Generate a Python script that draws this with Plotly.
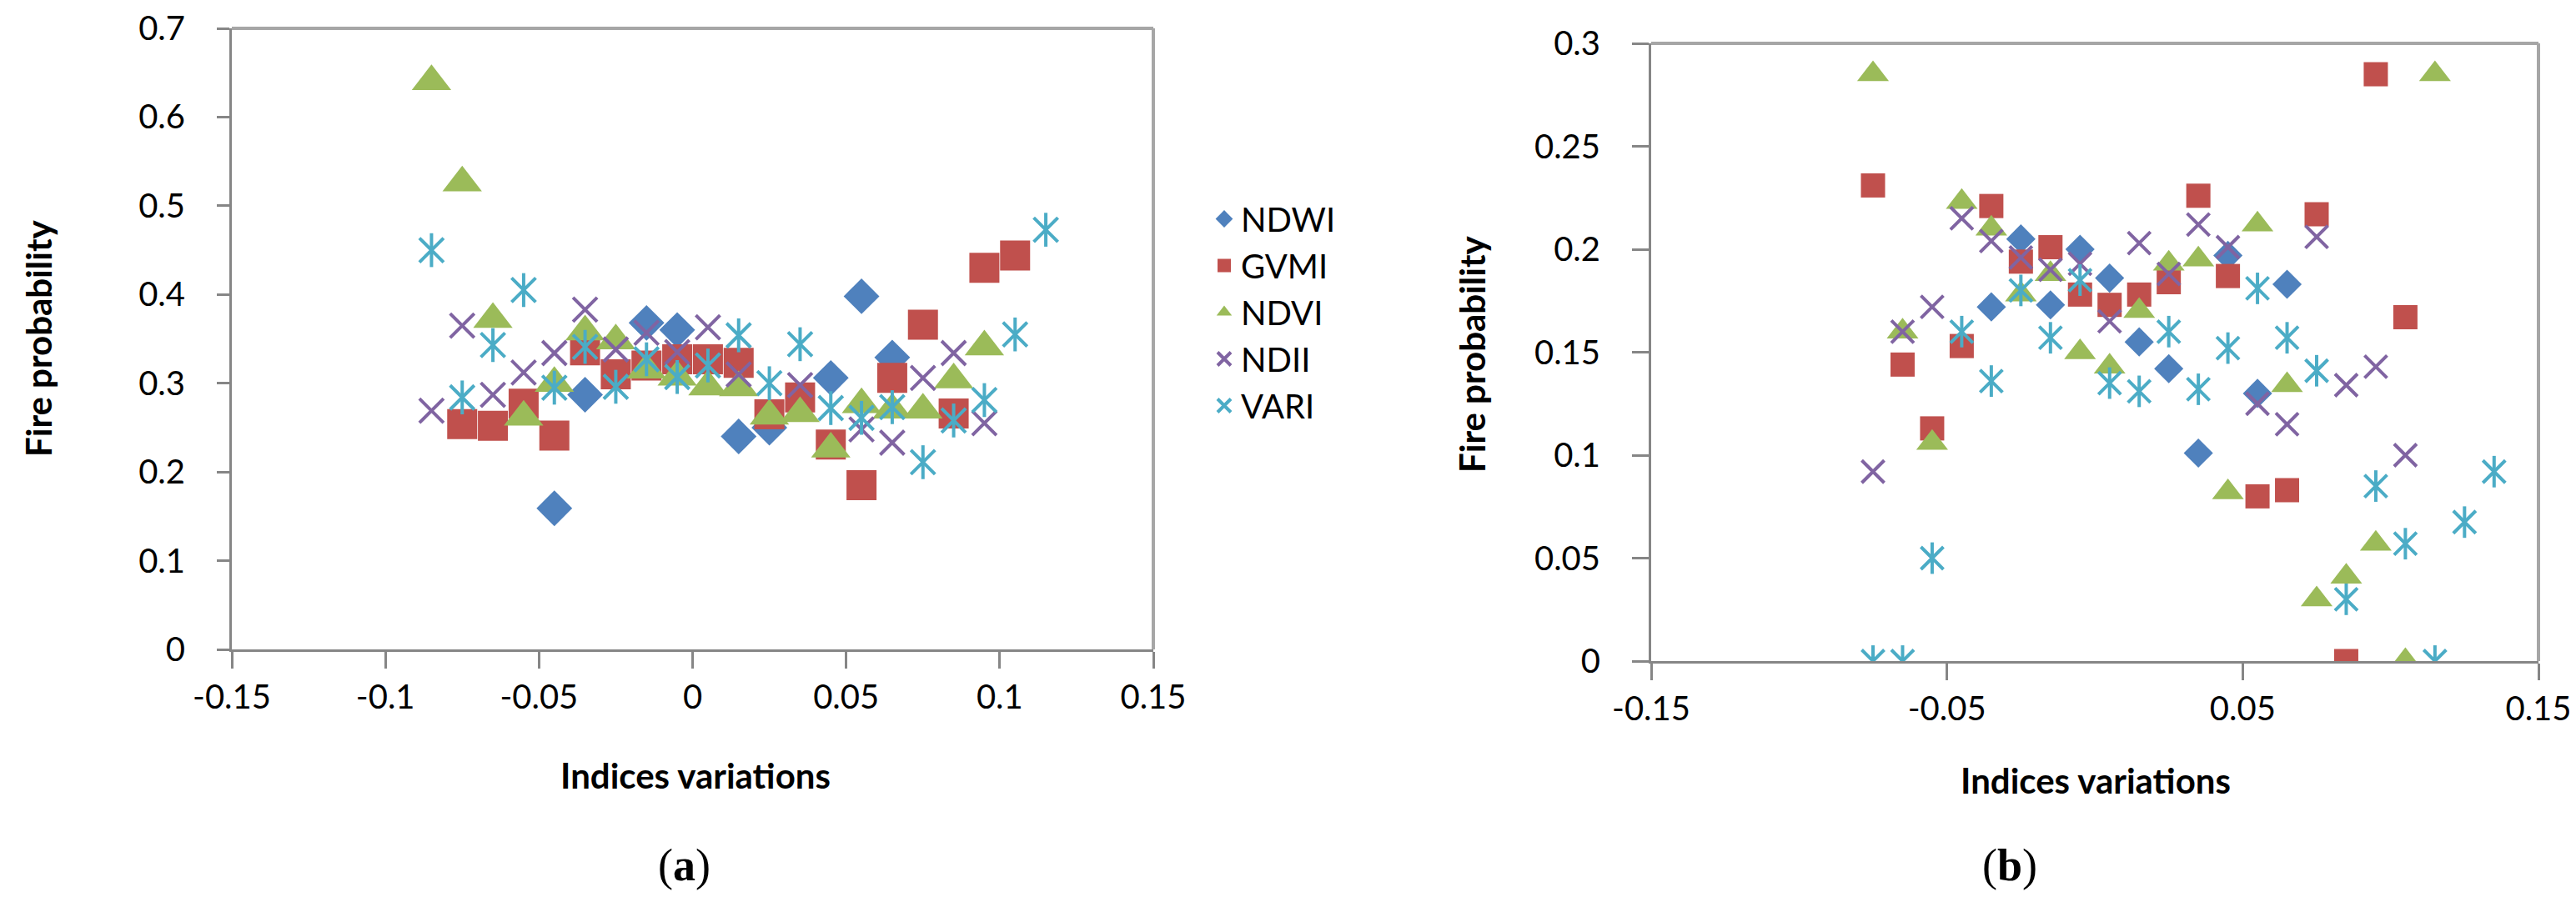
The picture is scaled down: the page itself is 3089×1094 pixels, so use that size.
import plotly.graph_objects as go

# Indices variations (bin centres) and fire probability, panel (a)
x_a = [-0.085, -0.075, -0.065, -0.055, -0.045, -0.035, -0.025, -0.015, -0.005, 0.005, 0.015,
       0.025, 0.035, 0.045, 0.055, 0.065, 0.075, 0.085, 0.095, 0.105, 0.115]
ndwi_a = [None, None, None, None, 0.159, 0.287, None, 0.368, 0.360, None, 0.240,
          0.250, None, 0.306, 0.398, 0.329, None, None, None, None, None]
gvmi_a = [None, 0.254, 0.252, 0.277, 0.241, 0.337, 0.310, 0.320, 0.327, 0.327, 0.323,
          0.265, 0.284, 0.231, 0.185, 0.306, 0.366, 0.266, 0.430, 0.444, None]
ndvi_a = [0.640, 0.526, 0.372, 0.262, 0.300, 0.358, 0.348, 0.315, 0.307, 0.296, 0.295,
          0.263, 0.266, 0.226, 0.276, 0.270, 0.270, 0.304, 0.341, None, None]
ndii_a = [0.269, 0.365, 0.287, 0.312, 0.334, 0.383, 0.338, 0.357, 0.335, 0.363, 0.310,
          None, 0.298, None, 0.248, 0.233, 0.306, 0.334, 0.255, None, None]
vari_a = [0.450, 0.284, 0.343, 0.405, 0.295, 0.341, 0.296, 0.327, 0.307, 0.320, 0.354,
          0.300, 0.344, 0.272, 0.261, 0.273, 0.211, 0.258, 0.281, 0.355, 0.473]

# panel (b)
x_b = [-0.075, -0.065, -0.055, -0.045, -0.035, -0.025, -0.015, -0.005, 0.005, 0.015, 0.025,
       0.035, 0.045, 0.055, 0.065, 0.075, 0.085, 0.095, 0.105, 0.115, 0.125, 0.135]
ndwi_b = [None, None, None, None, 0.172, 0.205, 0.173, 0.200, 0.186, 0.155, 0.142,
          0.101, 0.197, 0.130, 0.183, None, None, None, None, None, None, None]
gvmi_b = [0.231, 0.144, 0.113, 0.153, 0.221, 0.194, 0.201, 0.178, 0.173, 0.178, 0.184,
          0.226, 0.187, 0.080, 0.083, 0.217, 0.000, 0.285, 0.167, None, None, None]
ndvi_b = [0.285, 0.160, 0.106, 0.223, 0.210, 0.178, 0.188, 0.150, 0.143, 0.170, 0.193,
          0.195, 0.082, 0.212, 0.134, 0.030, 0.041, 0.057, 0.000, 0.285, None, None]
ndii_b = [0.092, 0.160, 0.172, 0.215, 0.204, 0.196, 0.190, 0.193, 0.165, 0.203, 0.188,
          0.212, 0.201, 0.125, 0.115, 0.206, 0.134, 0.143, 0.100, None, None, None]
vari_b = [0.000, 0.000, 0.050, 0.160, 0.136, 0.180, 0.157, 0.185, 0.135, 0.131, 0.160,
          0.132, 0.152, 0.181, 0.157, 0.141, 0.030, 0.085, 0.057, 0.000, 0.0675, 0.092]

names = ['NDWI', 'GVMI', 'NDVI', 'NDII', 'VARI']
colors = ['#4F81BD', '#C0504D', '#9BBB59', '#8064A2', '#4BACC6']

# tick labels
xt_a = [-0.15, -0.1, -0.05, 0, 0.05, 0.1, 0.15]
xt_a_text = ['-0.15', '-0.1', '-0.05', '0', '0.05', '0.1', '0.15']
yt_a = [0, 0.1, 0.2, 0.3, 0.4, 0.5, 0.6, 0.7]
yt_a_text = ['0', '0.1', '0.2', '0.3', '0.4', '0.5', '0.6', '0.7']
xt_b = [-0.15, -0.05, 0.05, 0.15]
xt_b_text = ['-0.15', '-0.05', '0.05', '0.15']
yt_b = [0, 0.05, 0.1, 0.15, 0.2, 0.25, 0.3]
yt_b_text = ['0', '0.05', '0.1', '0.15', '0.2', '0.25', '0.3']

FONT = 'Lato, Liberation Sans, sans-serif'
AXIS_GREY = '#868686'

fig = go.Figure()


def add_panel(x, series, xa, ya, big, legend):
    # marker sizes differ a bit between the two panels
    if big:
        sz = {'diamond': 33, 'square': 36, 'triangle-up': 41, 'x': 29}
    else:
        sz = {'diamond': 27, 'square': 29, 'triangle-up': 33, 'x': 27}
    symbols = ['diamond', 'square', 'triangle-up', 'x-thin-open', 'x-thin-open']
    for i, y in enumerate(series):
        sym = symbols[i]
        size = sz['x'] if sym == 'x-thin-open' else sz[sym]
        fig.add_trace(go.Scatter(
            x=x, y=y, mode='markers', name=names[i],
            xaxis=xa, yaxis=ya, showlegend=legend,
            legendgroup=names[i],
            marker=dict(symbol=sym, size=size, color=colors[i],
                        line=dict(width=4, color=colors[i]) if 'open' in sym else dict(width=0)),
        ))
        if i == 4:
            # vertical bar to turn the cross into an asterisk
            fig.add_trace(go.Scatter(
                x=x, y=y, mode='markers', name=names[i],
                xaxis=xa, yaxis=ya, showlegend=False, legendgroup=names[i],
                marker=dict(symbol='line-ns-open', size=sz['x'], color=colors[i],
                            line=dict(width=4, color=colors[i])),
            ))


add_panel(x_a, [ndwi_a, gvmi_a, ndvi_a, ndii_a, vari_a], 'x', 'y', True, True)
add_panel(x_b, [ndwi_b, gvmi_b, ndvi_b, ndii_b, vari_b], 'x2', 'y2', False, False)

W, H = 3089, 1094

axis_common = dict(showgrid=False, zeroline=False, showline=True, linecolor=AXIS_GREY,
                   linewidth=3, ticks='outside', tickcolor=AXIS_GREY, tickwidth=3,
                   automargin=False, ticklabeloverflow='allow',
                   tickfont=dict(family=FONT, size=40, color='black'))

fig.update_layout(
    width=W, height=H, autosize=False,
    paper_bgcolor='white', plot_bgcolor='white',
    margin=dict(l=0, r=0, t=0, b=0, autoexpand=False),
    xaxis=dict(domain=[270 / W, 1375 / W], range=[-0.15, 0.15], anchor='y',
               tickvals=xt_a, ticktext=xt_a_text, ticklen=20, **axis_common),
    yaxis=dict(domain=[(H - 771) / H, (H - 26) / H], range=[0, 0.7], anchor='x',
               tickvals=yt_a, ticktext=yt_a_text, ticklen=15, ticklabelstandoff=30,
               **axis_common),
    xaxis2=dict(domain=[1972 / W, 3036 / W], range=[-0.15, 0.15], anchor='y2',
                tickvals=xt_b, ticktext=xt_b_text, ticklen=20, **axis_common),
    yaxis2=dict(domain=[(H - 785) / H, (H - 44) / H], range=[0, 0.3], anchor='x2',
                tickvals=yt_b, ticktext=yt_b_text, ticklen=20, ticklabelstandoff=30,
                **axis_common),
    legend=dict(x=1440 / W, y=(H - 222) / H, xanchor='left', yanchor='top',
                font=dict(family=FONT, size=40, color='black'),
                traceorder='grouped', tracegroupgap=1, itemsizing='trace',
                bgcolor='rgba(0,0,0,0)'),
    showlegend=True,
)

# plot area border (top and right), lighter than the axes
for xr, yr in [('x domain', 'y domain'), ('x2 domain', 'y2 domain')]:
    fig.add_shape(type='line', xref=xr, yref=yr, x0=0, x1=1, y0=1, y1=1,
                  line=dict(color='#A6A6A6', width=4))
    fig.add_shape(type='line', xref=xr, yref=yr, x0=1, x1=1, y0=0, y1=1,
                  line=dict(color='#A6A6A6', width=4))

# axis titles centred on the plot areas, panel letters below
title_font = dict(family=FONT, size=42, color='black')
texts = [
    ('<b>Fire probability</b>', 38, 398, -90, title_font),
    ('<b>Fire probability</b>', 1757, 416, -90, title_font),
    ('<b>Indices variations</b>', 826, 922, 0, title_font),
    ('<b>Indices variations</b>', 2505, 928, 0, title_font),
]
label_font = dict(family='Liberation Serif, Times New Roman, serif', size=54, color='black')
texts += [
    ('(<b>a</b>)', 812, 1030, 0, label_font),
    ('(<b>b</b>)', 2402, 1030, 0, label_font),
]
for txt, px, py, ang, fnt in texts:
    fig.add_annotation(text=txt, x=px / W, y=(H - py) / H, xref='paper', yref='paper',
                       xanchor='center', yanchor='middle', textangle=ang,
                       showarrow=False, font=fnt)

fig.write_html('out.html')
